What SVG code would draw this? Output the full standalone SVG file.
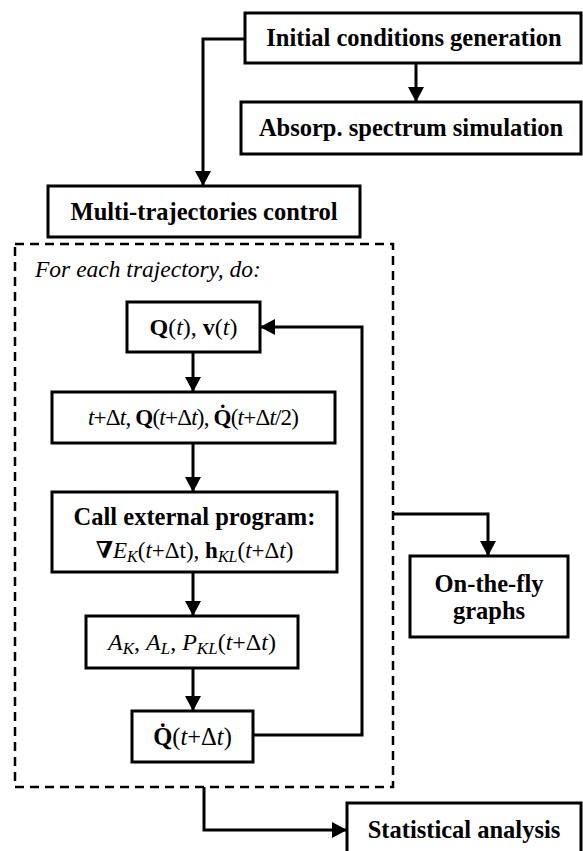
<svg xmlns="http://www.w3.org/2000/svg" width="583" height="851" viewBox="0 0 583 851" font-family="'Liberation Serif', 'DejaVu Serif', serif">
<style>
.box{fill:#fff;stroke:#000;stroke-width:3}
.dash{fill:none;stroke:#000;stroke-width:2.5;stroke-dasharray:9,6}
.c{fill:none;stroke:#000;stroke-width:3}
text{font-family:'Liberation Serif', 'DejaVu Serif', serif;font-size:23px;fill:#000}
.lbl{font-size:24.5px;font-weight:bold}
.b{font-weight:bold}
.i{font-style:italic}
.sub{font-size:16px;font-style:italic}
</style>
<defs>
<marker id="ah" markerUnits="userSpaceOnUse" markerWidth="16" markerHeight="16" refX="15" refY="8" orient="auto">
<path d="M0,0 L15,8 L0,16 z" fill="#000"/>
</marker>
</defs>
<g id="connectors">
<polyline class="c" points="245,39 203,39 203,186" marker-end="url(#ah)"/>
<line class="c" x1="416" y1="63" x2="416" y2="102" marker-end="url(#ah)"/>
<line class="c" x1="193" y1="352" x2="193" y2="392" marker-end="url(#ah)"/>
<line class="c" x1="193" y1="443" x2="193" y2="492" marker-end="url(#ah)"/>
<line class="c" x1="193" y1="572" x2="193" y2="616" marker-end="url(#ah)"/>
<line class="c" x1="193" y1="668" x2="193" y2="711" marker-end="url(#ah)"/>
<polyline class="c" points="253,735 362,735 362,327 260,327" marker-end="url(#ah)"/>
<polyline class="c" points="393,514 488,514 488,556" marker-end="url(#ah)"/>
<polyline class="c" points="204,787 204,830 347,830" marker-end="url(#ah)"/>
</g>
<g id="initial">
<rect class="box" x="245" y="13" width="336" height="50"/>
<text class="lbl" x="414" y="46" text-anchor="middle">Initial conditions generation</text>
</g>
<g id="absorp">
<rect class="box" x="241" y="102" width="340" height="52"/>
<text class="lbl" x="411" y="136" text-anchor="middle">Absorp. spectrum simulation</text>
</g>
<g id="multi">
<rect class="box" x="48" y="186" width="312" height="51"/>
<text class="lbl" x="204" y="220" text-anchor="middle">Multi-trajectories control</text>
</g>
<g id="loop">
<rect class="dash" x="15" y="244" width="378" height="543"/>
<text class="i" x="35" y="277" style="font-size:23.5px">For each trajectory, do:</text>
</g>
<g id="qv">
<rect class="box" x="127" y="302" width="133" height="50"/>
<text x="193.5" y="335" text-anchor="middle" style="font-size:24px"><tspan class="b">Q</tspan>(<tspan class="i">t</tspan>), <tspan class="b">v</tspan>(<tspan class="i">t</tspan>)</text>
</g>
<g id="step">
<rect class="box" x="52" y="392" width="283" height="51"/>
<text x="193.5" y="425" text-anchor="middle" textLength="211" lengthAdjust="spacing"><tspan class="i">t</tspan>+Δ<tspan class="i">t</tspan>, <tspan class="b">Q</tspan>(<tspan class="i">t</tspan>+Δ<tspan class="i">t</tspan>), <tspan class="b">Q̇</tspan>(<tspan class="i">t</tspan>+Δ<tspan class="i">t</tspan>/2)</text>
</g>
<g id="call">
<rect class="box" x="52" y="492" width="285" height="80"/>
<text class="lbl" x="194.5" y="525" text-anchor="middle">Call external program:</text>
<text x="194.5" y="558" text-anchor="middle"><tspan class="b">∇</tspan><tspan class="i">E</tspan><tspan class="sub" dy="4">K</tspan><tspan dy="-4">(</tspan><tspan class="i">t</tspan>+Δt), <tspan class="b">h</tspan><tspan class="sub" dy="4">KL</tspan><tspan dy="-4">(</tspan><tspan class="i">t</tspan>+Δ<tspan class="i">t</tspan>)</text>
</g>
<g id="akal">
<rect class="box" x="86" y="616" width="212" height="52"/>
<text x="192" y="650" text-anchor="middle" style="font-size:24px"><tspan class="i">A</tspan><tspan class="sub" dy="4" style="font-size:17px">K</tspan><tspan dy="-4">, </tspan><tspan class="i">A</tspan><tspan class="sub" dy="4" style="font-size:17px">L</tspan><tspan dy="-4">, </tspan><tspan class="i">P</tspan><tspan class="sub" dy="4" style="font-size:17px">KL</tspan><tspan dy="-4">(</tspan><tspan class="i">t</tspan>+Δ<tspan class="i">t</tspan>)</text>
</g>
<g id="qdot">
<rect class="box" x="132" y="711" width="121" height="51"/>
<text x="192.5" y="745" text-anchor="middle" style="font-size:24.5px"><tspan class="b">Q̇</tspan>(<tspan class="i">t</tspan>+Δ<tspan class="i">t</tspan>)</text>
</g>
<g id="onthefly">
<rect class="box" x="410" y="556" width="158" height="81"/>
<text class="lbl" x="489" y="592" text-anchor="middle">On-the-fly</text>
<text class="lbl" x="489" y="619" text-anchor="middle">graphs</text>
</g>
<g id="stat">
<rect class="box" x="347" y="803" width="234" height="60"/>
<text class="lbl" x="464" y="838" text-anchor="middle">Statistical analysis</text>
</g>
</svg>
